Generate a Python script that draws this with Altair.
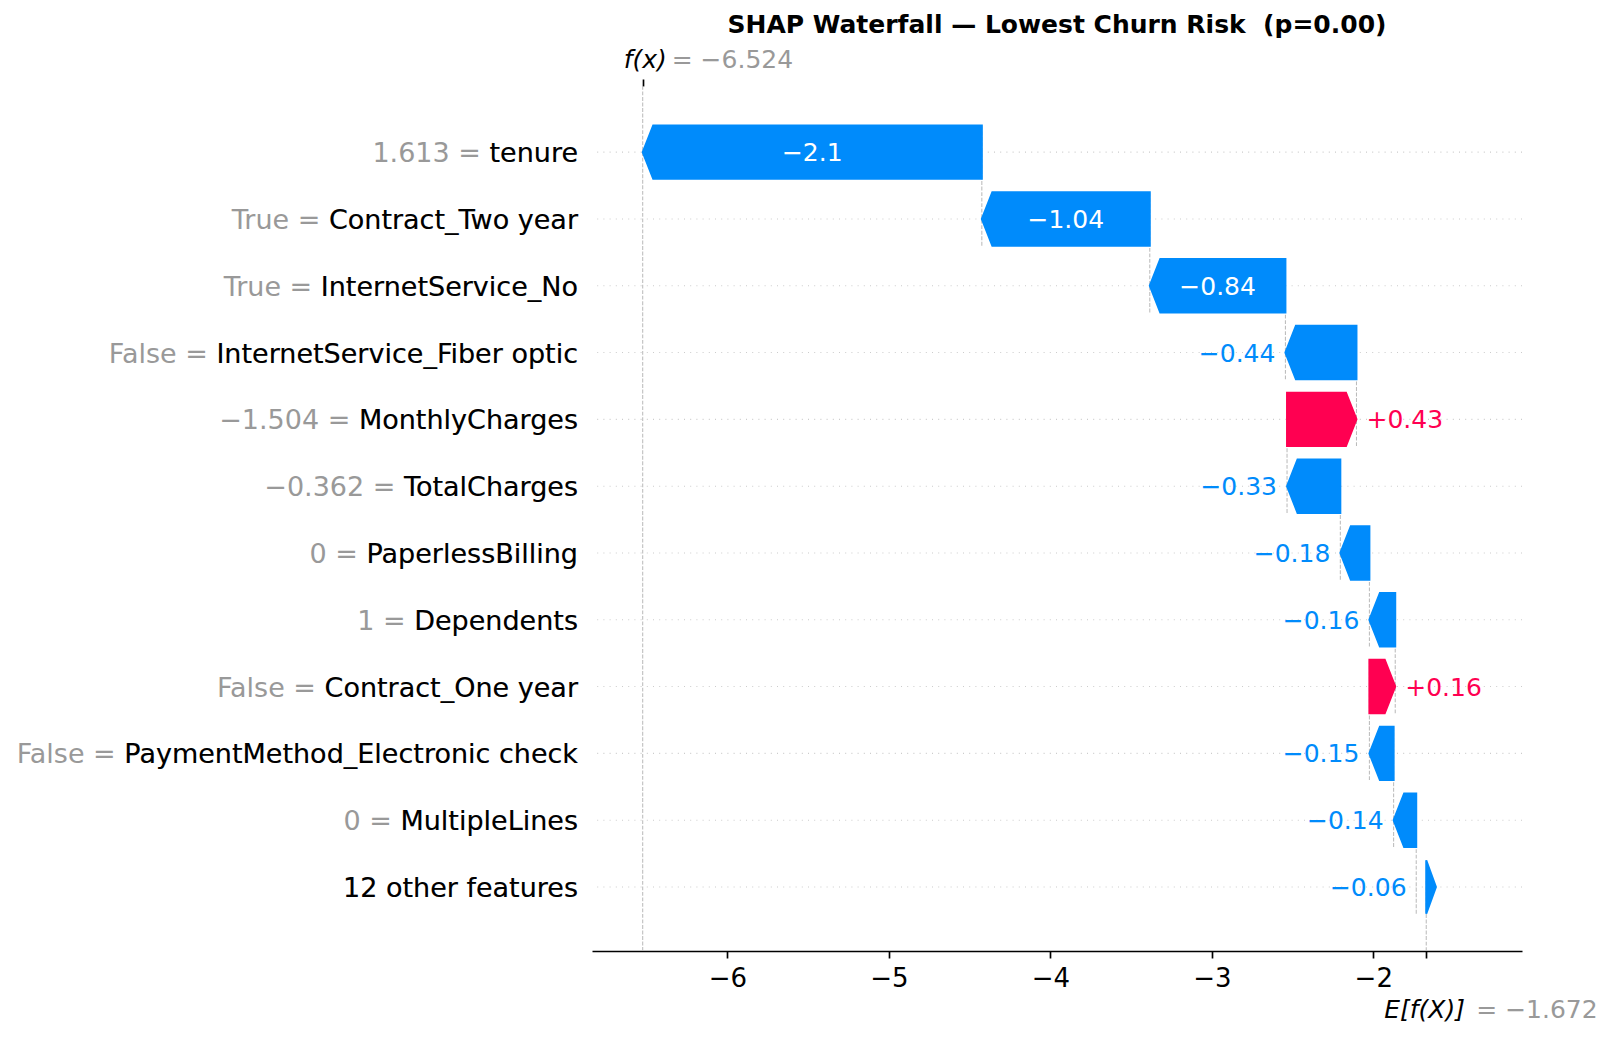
import re
import altair as alt
import pandas as pd

# ---- values -------------------------------------------------------------
title_text = "SHAP Waterfall — Lowest Churn Risk \u00a0(p=0.00)"
feature_names = [
    "tenure", "Contract_Two year", "InternetService_No",
    "InternetService_Fiber optic", "MonthlyCharges", "TotalCharges",
    "PaperlessBilling", "Dependents", "Contract_One year",
    "PaymentMethod_Electronic check", "MultipleLines", "12 other features",
]
feature_values = [
    "1.613", "True", "True", "False", "\u22121.504", "\u22120.362",
    "0", "1", "False", "False", "0", "",
]
shap_values = [-2.1, -1.04, -0.84, -0.44, 0.43, -0.33, -0.18, -0.16, 0.16, -0.15, -0.14, -0.06]
fx_value = -6.524
base_value = -1.672
x_ticks = [-6, -5, -4, -3, -2]

# ---- styling ------------------------------------------------------------
BLUE, RED = "#008bfb", "#ff0051"
GRAY_TXT = "#999999"
FONT = "DejaVu Sans"
W, H = 930, 865
X_DOMAIN = [-6.838, -1.079]
Y_DOMAIN = [-0.958, 11.99]
BAR = 0.8          # bar thickness in row units
HEAD = 0.065       # arrow head length in data units


def minus(s):
    return s.replace("-", "\u2212")


def format_value(v, fmt):
    s = fmt % v
    s = re.sub(r"\.?0+$", "", s)
    return minus(s)


n = len(feature_names)
bars, polys, links = [], [], []
loc = fx_value
for i, (name, fv, v) in enumerate(zip(feature_names, feature_values, shap_values)):
    y = n - 1 - i
    if i < n - 1:
        tip, tail = loc, loc - v
        loc = tail
        links.append({"x": tail, "y0": y - 1 - BAR / 2, "y1": y + BAR / 2})
    else:
        # grouped remainder is drawn from the expected value
        tail, tip = base_value, base_value + abs(v)
    bars.append({
        "y": y,
        "name": name,
        "full": f"{fv} = {name}" if fv else name,
        "label": format_value(v, "%+0.02f" if v > 0 else "%0.02f"),
        "mid": (tip + tail) / 2,
        "anchor": tail + v,
        "sign": "pos" if v > 0 else "neg",
        "inside": abs(v) >= 0.6,
    })
    d = 1 if tip > tail else -1
    length = abs(tip - tail)
    h = min(HEAD, length)
    pts = [(tail, y - BAR / 2, y + BAR / 2)]
    if h < length:
        pts.append((tip - d * h, y - BAR / 2, y + BAR / 2))
    pts.append((tip, y, y))
    color = RED if v > 0 else BLUE
    for px, y0, y1 in pts:
        polys.append({"bar": i, "x": px, "y0": y0, "y1": y1, "c": color})

bars_df = pd.DataFrame(bars)
poly_df = pd.DataFrame(polys)
link_df = pd.DataFrame(links)

XS = alt.Scale(domain=X_DOMAIN, nice=False, zero=False)
YS = alt.Scale(domain=Y_DOMAIN, nice=False, zero=False)

# dotted row guides
grid = alt.Chart(bars_df).mark_rule(color="#cccccc", strokeWidth=1.04, strokeDash=[1, 5.2]).encode(
    y=alt.Y("y:Q", scale=YS, axis=None)
)

# dashed connectors between consecutive bars
dash = dict(color="#bbbbbb", strokeWidth=1.04, strokeDash=[3.85, 1.67])
connectors = alt.Chart(link_df).mark_rule(**dash).encode(
    x=alt.X("x:Q", scale=XS, axis=None),
    y=alt.Y("y0:Q", scale=YS, axis=None),
    y2="y1:Q",
)

# f(x) guide carries the top tick
fx_line = alt.Chart(pd.DataFrame({"x": [fx_value]})).mark_rule(**dash).encode(
    x=alt.X("x:Q", scale=XS, axis=alt.Axis(
        orient="top", values=[fx_value], labels=False, domain=False, grid=False,
        ticks=True, tickSize=7, tickWidth=1.67, tickColor="black", title=None)),
)

base_span = (Y_DOMAIN[1] - Y_DOMAIN[0]) / n
base_line = alt.Chart(pd.DataFrame({"x": [base_value], "y0": [Y_DOMAIN[0]], "y1": [Y_DOMAIN[0] + base_span]})).mark_rule(**dash).encode(
    x=alt.X("x:Q", scale=XS, axis=None),
    y=alt.Y("y0:Q", scale=YS, axis=None),
    y2="y1:Q",
)

# arrow-shaped bars (ranged areas, one path per bar)
arrows = alt.Chart(poly_df).mark_area(orient="vertical", strokeWidth=2, strokeJoin="miter", interpolate="linear").encode(
    x=alt.X("x:Q", scale=XS, axis=alt.Axis(
        orient="bottom", values=x_ticks + [base_value],
        labelExpr="datum.value > -1.9 ? '' : replace(format(datum.value, 'd'), '-', '\u2212')",
        grid=False, domain=True, domainColor="black", domainWidth=1.67,
        ticks=True, tickSize=7, tickWidth=1.67, tickColor="black",
        labelFont=FONT, labelFontSize=26, labelColor="black", labelPadding=7,
        title=None)),
    y=alt.Y("y0:Q", scale=YS, axis=None),
    y2="y1:Q",
    detail="bar:N",
    fill=alt.Fill("c:N", scale=None),
    stroke=alt.Stroke("c:N", scale=None),
)

lab_base = alt.Chart(bars_df)
inside_lab = lab_base.transform_filter("datum.inside").mark_text(
    font=FONT, fontSize=25, color="white", align="center", baseline="middle", dy=1).encode(
    x=alt.X("mid:Q", scale=XS, axis=None), y=alt.Y("y:Q", scale=YS, axis=None), text="label:N")
neg_lab = lab_base.transform_filter("!datum.inside && datum.sign == 'neg'").mark_text(
    font=FONT, fontSize=25, color=BLUE, align="right", baseline="middle", dx=-10, dy=1).encode(
    x=alt.X("anchor:Q", scale=XS, axis=None), y=alt.Y("y:Q", scale=YS, axis=None), text="label:N")
pos_lab = lab_base.transform_filter("!datum.inside && datum.sign == 'pos'").mark_text(
    font=FONT, fontSize=25, color=RED, align="left", baseline="middle", dx=10, dy=1).encode(
    x=alt.X("anchor:Q", scale=XS, axis=None), y=alt.Y("y:Q", scale=YS, axis=None), text="label:N")

# feature labels: gray "value = name", black name on top
ylab_gray = lab_base.mark_text(font=FONT, fontSize=27, color=GRAY_TXT, align="right", baseline="middle", dy=2).encode(
    x=alt.value(-14), y=alt.Y("y:Q", scale=YS, axis=None), text="full:N")
ylab_black = lab_base.mark_text(font=FONT, fontSize=27, color="black", align="right", baseline="middle", dy=2).encode(
    x=alt.value(-14), y=alt.Y("y:Q", scale=YS, axis=None), text="name:N")

# f(x) and E[f(X)] annotations
ends = pd.DataFrame({"x": [fx_value, base_value],
                     "val": [format_value(fx_value, "= %0.03f"), format_value(base_value, "= %0.03f")]})
fx_sym = alt.Chart(ends.iloc[[0]]).mark_text(font=FONT, fontSize=25, fontStyle="italic", color="black",
                                             align="left", baseline="middle", dx=-19).encode(
    x=alt.X("x:Q", scale=XS, axis=None), y=alt.value(-26), text=alt.value("f(x)"))
fx_val = alt.Chart(ends.iloc[[0]]).mark_text(font=FONT, fontSize=25, color=GRAY_TXT,
                                             align="left", baseline="middle", dx=29).encode(
    x=alt.X("x:Q", scale=XS, axis=None), y=alt.value(-26), text="val:N")
e_sym = alt.Chart(ends.iloc[[1]]).mark_text(font=FONT, fontSize=25, fontStyle="italic", color="black",
                                            align="left", baseline="middle", dx=-42).encode(
    x=alt.X("x:Q", scale=XS, axis=None), y=alt.value(H + 59), text=alt.value("E[f(X)]"))
e_val = alt.Chart(ends.iloc[[1]]).mark_text(font=FONT, fontSize=25, color=GRAY_TXT,
                                            align="left", baseline="middle", dx=50).encode(
    x=alt.X("x:Q", scale=XS, axis=None), y=alt.value(H + 59), text="val:N")

title = alt.Chart(pd.DataFrame({"t": [title_text]})).mark_text(
    font=FONT, fontSize=25, fontWeight="bold", color="black", align="center", baseline="middle").encode(
    x=alt.value(W / 2), y=alt.value(-61), text="t:N")

chart = alt.layer(
    grid, connectors, fx_line, base_line, arrows,
    inside_lab, neg_lab, pos_lab, ylab_gray, ylab_black,
    fx_sym, fx_val, e_sym, e_val, title,
).resolve_axis(x="independent").properties(
    width=W, height=H,
    autosize=alt.AutoSizeParams(type="none"),
    padding={"left": 592, "top": 86, "right": 87, "bottom": 86},
    background="white",
).configure_view(stroke=None)

chart.save("out.html", embed_options={"renderer": "svg", "actions": False})
